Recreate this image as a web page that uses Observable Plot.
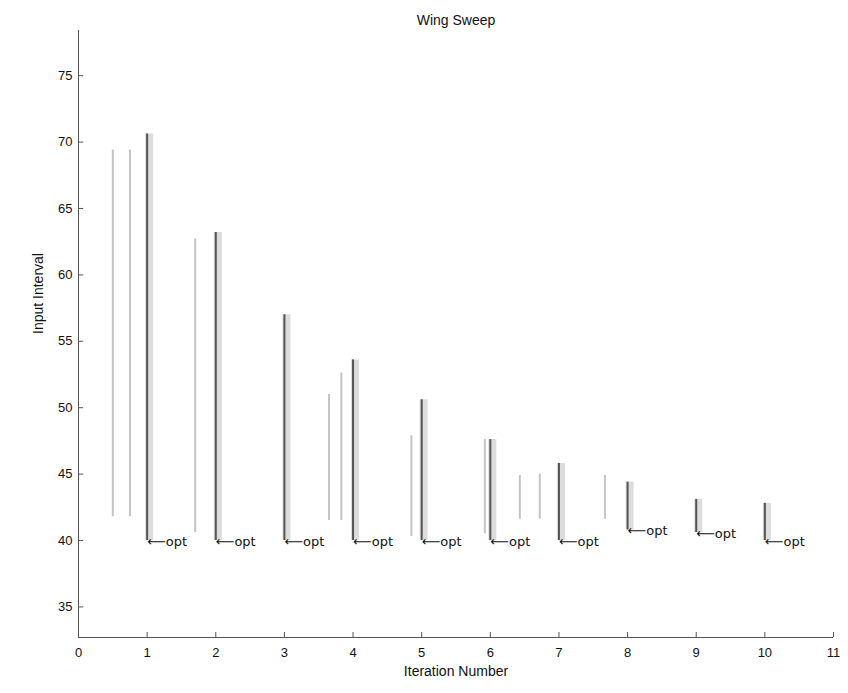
<!DOCTYPE html>
<html>
<head>
<meta charset="utf-8">
<script src="https://cdn.jsdelivr.net/npm/d3@7"></script>
<script src="https://cdn.jsdelivr.net/npm/@observablehq/plot@0.6"></script>
<style>
  html, body { margin: 0; padding: 0; background: #fff; }
</style>
</head>
<body>
<div id="chart"></div>
<script>
// Iterations and the main (dark) interval lines
const iterations = [1, 2, 3, 4, 5, 6, 7, 8, 9, 10];
const optValues  = [40, 40, 40, 40, 40, 40, 40, 40.8, 40.6, 40];
const upperValues = [70.6, 63.2, 57.0, 53.6, 50.6, 47.6, 45.8, 44.4, 43.1, 42.8];
const optLabel = "\u27F5opt";

// Secondary (light) interval lines
const secX  = [0.5, 0.75, 1.7, 3.65, 3.83, 4.85, 5.92, 6.43, 6.72, 7.67];
const secLo = [41.8, 41.8, 40.6, 41.5, 41.5, 40.3, 40.5, 41.6, 41.6, 41.6];
const secHi = [69.4, 69.4, 62.7, 51.0, 52.6, 47.9, 47.6, 44.9, 45.0, 44.9];

// Axis ticks
const xTicks = [0, 1, 2, 3, 4, 5, 6, 7, 8, 9, 10, 11];
const yTicks = [35, 40, 45, 50, 55, 60, 65, 70, 75];
const xDomain = [0, 11];
const yDomain = [32.7, 78.4];

const main = iterations.map((it, i) => ({x: it, lo: optValues[i], hi: upperValues[i]}));
const secondary = secX.map((x, i) => ({x, lo: secLo[i], hi: secHi[i]}));

const chart = Plot.plot({
  width: 848,
  height: 693,
  marginLeft: 78,
  marginRight: 15,
  marginTop: 30,
  marginBottom: 56,
  x: {domain: xDomain},
  y: {domain: yDomain},
  style: {fontFamily: "'Liberation Sans', Arial, sans-serif", fontSize: "13px", color: "#111", background: "#fff"},
  marks: [
    Plot.ruleX(secondary, {x: "x", y1: "lo", y2: "hi", stroke: "#c4c4c4", strokeWidth: 2}),
    Plot.ruleX(main, {x: "x", y1: "lo", y2: "hi", stroke: "#dcdcdc", strokeWidth: 8, dx: 2}),
    Plot.ruleX(main, {x: "x", y1: "lo", y2: "hi", stroke: "#555", strokeWidth: 2}),
    Plot.text(main, {x: "x", y: "lo", text: () => optLabel, textAnchor: "start", fill: "#111", fontSize: 13, fontFamily: "'DejaVu Sans', sans-serif", dy: 1}),
    // axis lines
    Plot.ruleX([xDomain[0]], {stroke: "#555"}),
    Plot.ruleY([yDomain[0]], {stroke: "#555"}),
    // inward ticks
    Plot.ruleX(xTicks, {x: d => d, y1: yDomain[0], y2: yDomain[0] + 0.38, stroke: "#555"}),
    Plot.ruleY(yTicks, {y: d => d, x1: xDomain[0], x2: xDomain[0] + 0.075, stroke: "#555"}),
    Plot.axisX({ticks: xTicks, tickSize: 0, tickPadding: 10, label: null, tickFormat: d => String(d)}),
    Plot.axisY({ticks: yTicks, tickSize: 0, tickPadding: 6, label: null, tickFormat: d => String(d)}),
    // title and labels
    Plot.text(["Wing Sweep"], {frameAnchor: "top", dy: -15, text: d => d, fontSize: 14, fill: "#111"}),
    Plot.text(["Iteration Number"], {frameAnchor: "bottom", dy: 38, text: d => d, fontSize: 14, fill: "#111"}),
    Plot.text(["Input Interval"], {frameAnchor: "left", dx: -40, rotate: -90, text: d => d, fontSize: 14, fill: "#111"})
  ]
});

document.getElementById("chart").appendChild(chart);
</script>
</body>
</html>
